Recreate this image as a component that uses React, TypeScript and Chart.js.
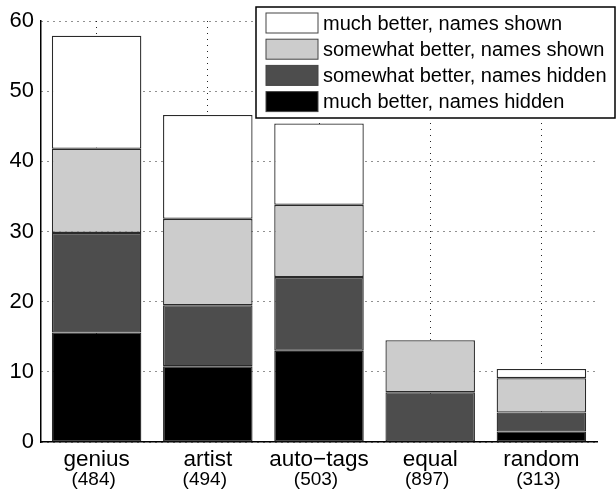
import React, { useEffect, useRef } from "react";
import { Chart, registerables } from "chart.js";

Chart.register(...registerables);

const categories = ["genius", "artist", "auto\u2212tags", "equal", "random"];
const counts = ["(484)", "(494)", "(503)", "(897)", "(313)"];
const muchHidden = [15.6, 10.8, 13.0, 0, 1.5];
const somewhatHidden = [14.2, 8.7, 10.5, 7.1, 2.7];
const somewhatShown = [12.0, 12.3, 10.3, 7.4, 4.9];
const muchShown = [16.1, 14.8, 11.6, 0, 1.3];
const yTicks = [0, 10, 20, 30, 40, 50, 60];

const FONT = "'Liberation Sans', Arial, Helvetica, sans-serif";

const countsPlugin = {
  id: "counts",
  afterDraw(chart: any) {
    const ctx = chart.ctx;
    const xs = chart.scales.x;
    ctx.save();
    ctx.font = `19px ${FONT}`;
    ctx.fillStyle = "#000";
    ctx.textAlign = "center";
    ctx.textBaseline = "alphabetic";
    counts.forEach((c, i) => {
      ctx.fillText(c, xs.getPixelForTick(i) - 3, 485);
    });
    ctx.restore();
  },
};

const legendPlugin = {
  id: "boxLegend",
  afterDraw(chart: any) {
    const ctx = chart.ctx;
    const ds = chart.data.datasets;
    const order = [3, 2, 1, 0];
    const left = 256, top = 7, right = 615, bottom = 118;
    ctx.save();
    ctx.fillStyle = "#fff";
    ctx.fillRect(left, top, right - left, bottom - top);
    ctx.lineWidth = 1.5;
    ctx.strokeStyle = "#000";
    ctx.strokeRect(left, top, right - left, bottom - top);
    ctx.font = `20px ${FONT}`;
    ctx.textBaseline = "middle";
    ctx.textAlign = "left";
    order.forEach((di, row) => {
      const cy = 23 + row * 26.2;
      const d = ds[di];
      ctx.fillStyle = d.backgroundColor;
      ctx.fillRect(266, cy - 10, 52, 20);
      ctx.lineWidth = 1;
      ctx.strokeStyle = "#444";
      ctx.strokeRect(266, cy - 10, 52, 20);
      ctx.fillStyle = "#000";
      ctx.fillText(d.label, 323, cy + 1);
    });
    ctx.restore();
  },
};

export default function App() {
  const ref = useRef<HTMLCanvasElement | null>(null);
  useEffect(() => {
    if (!ref.current) return;
    const mk = (label: string, data: number[], color: string) => ({
      label,
      data,
      backgroundColor: color,
      borderColor: "#2a2a2a",
      borderWidth: 1.3,
      borderSkipped: false,
      barPercentage: 0.805,
      categoryPercentage: 1.0,
    });
    const chart = new Chart(ref.current, {
      type: "bar",
      data: {
        labels: categories,
        datasets: [
          mk("much better, names hidden", muchHidden, "#000000"),
          mk("somewhat better, names hidden", somewhatHidden, "#4d4d4d"),
          mk("somewhat better, names shown", somewhatShown, "#cccccc"),
          mk("much better, names shown", muchShown, "#ffffff"),
        ],
      },
      options: {
        responsive: false,
        animation: false,
        devicePixelRatio: 1,
        layout: { padding: { top: 21, right: 19, left: 0, bottom: 0 } },
        plugins: {
          legend: { display: false },
          tooltip: { enabled: false },
        },
        scales: {
          x: {
            stacked: true,
            z: 1,
            afterFit: (s: any) => { s.height = 53; },
            grid: {
              offset: false,
              color: "#222",
              lineWidth: 1,
              drawTicks: false,
            },
            border: { display: true, color: "#000", width: 1.5, dash: [1, 5] },
            ticks: {
              color: "#000",
              font: { family: FONT, size: 22.5 },
              padding: 4,
              maxRotation: 0,
            },
          },
          y: {
            stacked: true,
            min: 0,
            max: 60,
            z: 1,
            afterFit: (s: any) => { s.width = 41; },
            afterBuildTicks: (s: any) => { s.ticks = yTicks.map((v) => ({ value: v })); },
            grid: {
              color: "#222",
              lineWidth: 1,
              drawTicks: false,
            },
            border: { display: true, color: "#000", width: 1.5, dash: [1, 5] },
            ticks: {
              color: "#000",
              font: { family: FONT, size: 22 },
              padding: 7,
            },
          },
        },
      },
      plugins: [countsPlugin, legendPlugin],
    });
    return () => chart.destroy();
  }, []);
  return (
    <div style={{ position: "fixed", left: 0, top: 0, width: 616, height: 495, background: "#fff" }}>
      <canvas ref={ref} width={616} height={495} style={{ width: 616, height: 495 }} />
    </div>
  );
}
